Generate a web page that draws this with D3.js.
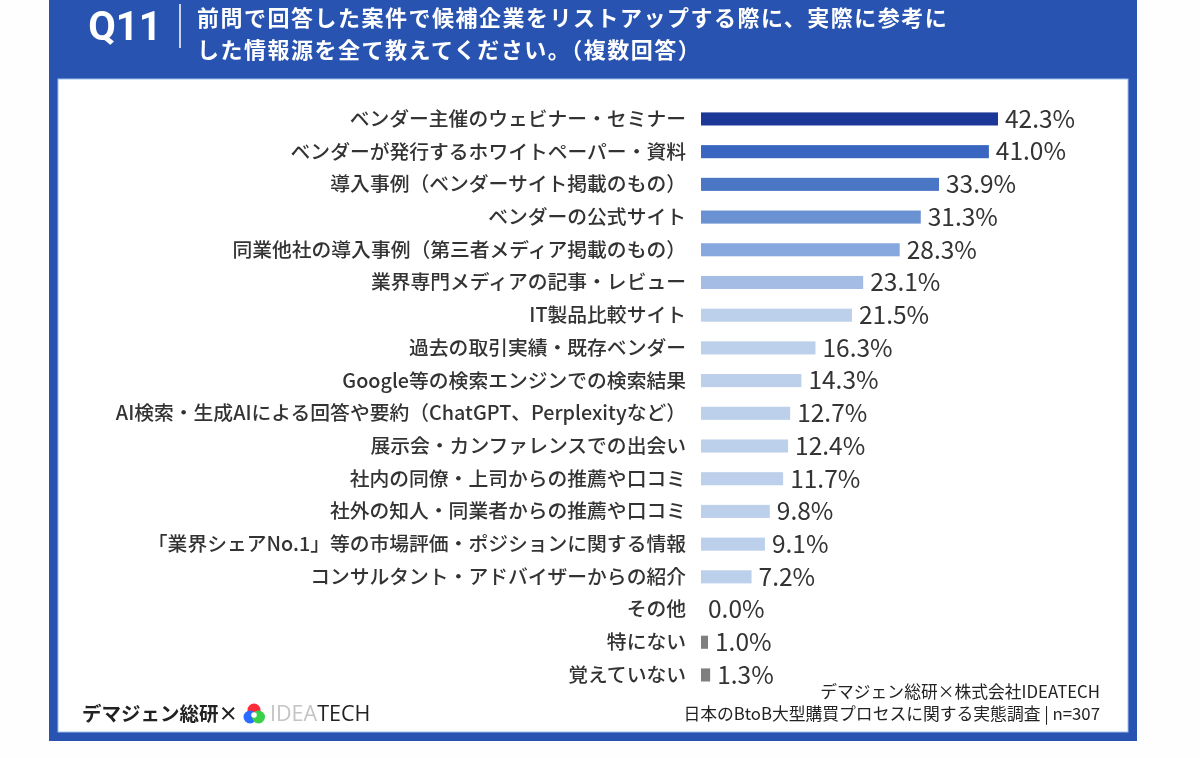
<!DOCTYPE html>
<html>
<head>
<meta charset="utf-8">
<script src="https://cdn.jsdelivr.net/npm/d3@7"></script>
<style>
  body { margin: 0; background: #fefefe; }
  svg { display: block; font-family: "Noto Sans CJK JP", "Noto Sans", sans-serif; }
</style>
</head>
<body>
<div id="chart"></div>
<script>
// Data
const categories = [
  "ベンダー主催のウェビナー・セミナー",
  "ベンダーが発行するホワイトペーパー・資料",
  "導入事例（ベンダーサイト掲載のもの）",
  "ベンダーの公式サイト",
  "同業他社の導入事例（第三者メディア掲載のもの）",
  "業界専門メディアの記事・レビュー",
  "IT製品比較サイト",
  "過去の取引実績・既存ベンダー",
  "Google等の検索エンジンでの検索結果",
  "AI検索・生成AIによる回答や要約（ChatGPT、Perplexityなど）",
  "展示会・カンファレンスでの出会い",
  "社内の同僚・上司からの推薦や口コミ",
  "社外の知人・同業者からの推薦や口コミ",
  "「業界シェアNo.1」等の市場評価・ポジションに関する情報",
  "コンサルタント・アドバイザーからの紹介",
  "その他",
  "特にない",
  "覚えていない"
];
const values = [42.3, 41.0, 33.9, 31.3, 28.3, 23.1, 21.5, 16.3, 14.3, 12.7, 12.4, 11.7, 9.8, 9.1, 7.2, 0.0, 1.0, 1.3];
const barColors = ["#1b3899", "#3a66c1", "#4b76c6", "#6a91d2", "#87a7df", "#a5bde4",
  "#bccfeb", "#bccfeb", "#bccfeb", "#bccfeb", "#bccfeb", "#bccfeb", "#bccfeb", "#bccfeb", "#bccfeb",
  "#bccfeb", "#7f7f7f", "#7f7f7f"];

const width = 1200, height = 758;
const blue = "#2853b0";

const svg = d3.select("#chart").append("svg")
  .attr("width", width)
  .attr("height", height);

// Frame
svg.append("rect").attr("x", 49).attr("y", 0).attr("width", 1088).attr("height", 741).attr("fill", blue);
svg.append("rect").attr("x", 58).attr("y", 79).attr("width", 1070).attr("height", 653).attr("fill", "#ffffff")
  .attr("stroke", "#9cc0ee").attr("stroke-width", 1);

// Header
svg.append("text")
  .attr("x", 125).attr("y", 40)
  .attr("text-anchor", "middle")
  .attr("font-size", 40).attr("font-weight", "bold")
  .attr("font-family", "Roboto, 'Noto Sans', sans-serif")
  .attr("fill", "#ffffff")
  .text("Q11");

svg.append("line")
  .attr("x1", 180).attr("x2", 180).attr("y1", 4).attr("y2", 48)
  .attr("stroke", "#ffffff").attr("stroke-width", 1.5);

const titleLines = ["前問で回答した案件で候補企業をリストアップする際に、実際に参考に",
  "した情報源を全て教えてください。（複数回答）"];
svg.append("g").selectAll("text")
  .data(titleLines)
  .join("text")
  .attr("x", 197)
  .attr("y", (d, i) => 26 + i * 32)
  .attr("font-size", 22).attr("font-weight", "bold")
  .attr("letter-spacing", 1.5)
  .attr("fill", "#ffffff")
  .text(d => d);

// Scales
const y = d3.scaleBand()
  .domain(categories)
  .range([102.6, 691.3])
  .paddingInner(0.6)
  .paddingOuter(0.3);

const x = d3.scaleLinear()
  .domain([0, 42.3])
  .range([701, 998]);

const color = d3.scaleOrdinal().domain(categories).range(barColors);

// Bars
svg.append("g").selectAll("rect")
  .data(categories)
  .join("rect")
  .attr("x", x(0))
  .attr("y", d => y(d))
  .attr("width", (d, i) => x(values[i]) - x(0))
  .attr("height", y.bandwidth())
  .attr("fill", d => color(d));

// Category labels
svg.append("g").selectAll("text")
  .data(categories)
  .join("text")
  .attr("x", 686)
  .attr("y", d => y(d) + y.bandwidth() / 2)
  .attr("dy", "0.35em")
  .attr("text-anchor", "end")
  .attr("font-size", 19.8)
  .attr("font-weight", 500)
  .attr("fill", "#333333")
  .text(d => d);

// Value labels
svg.append("g").selectAll("text")
  .data(categories)
  .join("text")
  .attr("x", (d, i) => x(values[i]) + 7)
  .attr("y", d => y(d) + y.bandwidth() / 2)
  .attr("dy", "0.36em")
  .attr("font-size", 24.5)
  .attr("fill", "#333333")
  .text((d, i) => values[i].toFixed(1) + "%");

// Footer left
const foot = svg.append("g");
foot.append("text")
  .attr("x", 82).attr("y", 721)
  .attr("font-size", 19.5).attr("font-weight", "bold")
  .attr("fill", "#222222")
  .text("デマジェン総研×");
const logo = foot.append("g").attr("transform", "translate(254,714)").style("mix-blend-mode", "multiply");
logo.append("circle").attr("cx", 0).attr("cy", -4).attr("r", 6.5).attr("fill", "#ff2a3a");
logo.append("circle").attr("cx", -4).attr("cy", 3).attr("r", 6.5).attr("fill", "#2a6cff");
logo.append("circle").attr("cx", 4.5).attr("cy", 3).attr("r", 6.5).attr("fill", "#3ad04a");
logo.append("circle").attr("cx", 0).attr("cy", 1).attr("r", 2.8).attr("fill", "#ffffff");
const brand = foot.append("text")
  .attr("x", 270).attr("y", 721)
  .attr("font-size", 21.5)
  .attr("font-family", "'Open Sans', 'Noto Sans', sans-serif");
brand.append("tspan").attr("fill", "#c4c4c4").text("IDEA");
brand.append("tspan").attr("fill", "#222222").text("TECH");

// Footer right
svg.append("text")
  .attr("x", 1100).attr("y", 698)
  .attr("text-anchor", "end")
  .attr("font-size", 16.8)
  .attr("fill", "#222222")
  .text("デマジェン総研×株式会社IDEATECH");
svg.append("text")
  .attr("x", 1100).attr("y", 720)
  .attr("text-anchor", "end")
  .attr("font-size", 16.8)
  .attr("fill", "#222222")
  .text("日本のBtoB大型購買プロセスに関する実態調査 | n=307");
</script>
</body>
</html>
